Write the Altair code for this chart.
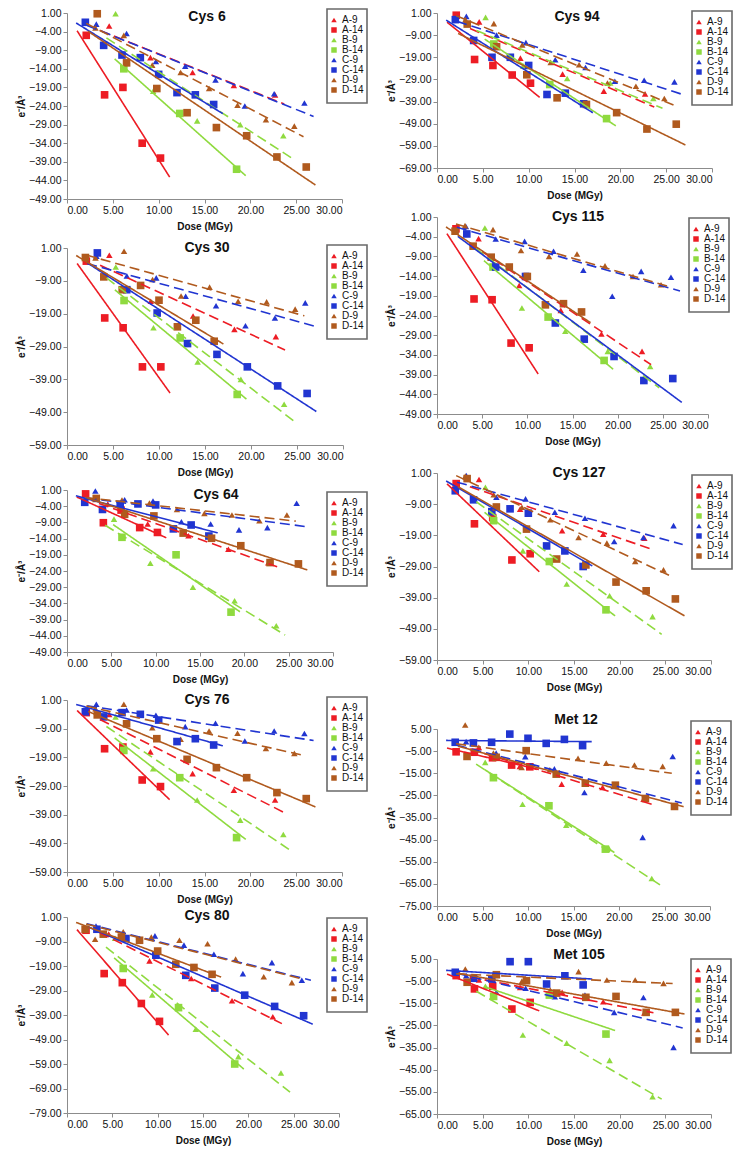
import altair as alt
import numpy as np
import pandas as pd

# ---------------- data ----------------
SERIES = ["A-9", "A-14", "B-9", "B-14", "C-9", "C-14", "D-9", "D-14"]
COLORS = ["#ed1c24", "#ed1c24", "#8fda3f", "#8fda3f", "#2135d1", "#2135d1", "#b05a1e", "#b05a1e"]
SHAPES = ["triangle-up", "square"] * 4
X_TICKS = [0, 5, 10, 15, 20, 25, 30]

DOSE_A9 = [4.6, 9.1, 13.7, 18.2, 22.7]
DOSE_A14 = [2.1, 4.1, 6.1, 8.2, 10.2]
DOSE_B9 = [5.3, 9.4, 14.2, 18.9, 23.6]
DOSE_B14 = [6.2, 12.3, 18.5]
DOSE_C9 = [3.2, 6.5, 9.7, 12.9, 16.2, 19.4, 22.6, 25.9]
DOSE_D9 = [3.1, 6.2, 9.3, 12.4, 15.5, 18.6, 21.7, 24.8]
DOSE_SHORT = [2.0, 4.0, 6.0, 8.0, 10.0, 12.0, 14.0, 16.0]
DOSE_LONG = [3.3, 6.5, 9.8, 13.1, 16.3, 19.6, 22.9, 26.1]

CYS6 = {
    "A-9": [-2.5, -11, -15, -18.5, -21],
    "A-14": [-5, -21, -19, -34, -38],
    "B-9": [0.8, -20, -28, -29, -32],
    "B-14": [-14, -26, -41],
    "C-9": [-2, -4.5, -12, -13.3, -17, -24, -20.7, -23.2],
    "C-14": [-1.5, -7.7, -10.3, -11, -15.5, -20.4, -21, -23.6],
    "D-9": [-3, -5, -13, -15, -19.3, -23.8, -27.7, -29.4],
    "D-14": [0.8, -12.4, -19.3, -25.8, -29.8, -32, -37.7, -40.4],
}
CYS30 = {
    "A-9": [-1.2, -15.2, -19.7, -23.8, -26],
    "A-14": [-3, -20.3, -23.3, -35.2, -35.2],
    "B-9": [-4.8, -23.3, -33.7, -39, -46.6],
    "B-14": [-15, -26.4, -43.6],
    "C-9": [-1.5, -7.5, -8.1, -13.7, -16.6, -22.7, -20.3, -15.7],
    "C-14": [-0.5, -11.7, -18.8, -28.1, -31.4, -35.2, -41, -43.3],
    "D-9": [-2, 0, -8.6, -13.6, -10.9, -15.2, -15.4, -17.6],
    "D-14": [-1.9, -7.8, -11.7, -10.4, -14.9, -23, -21, -27.4],
}
CYS64 = {
    "A-9": [-3.3, -9.5, -13.1, -17.3, -21.4],
    "A-14": [-0.2, -9.1, -5.2, -10.6, -12.1],
    "B-9": [-8, -21.6, -29, -33.2, -40.9],
    "B-14": [-13.6, -19, -36.7],
    "C-9": [0.7, -2, -2.4, -8.8, -9.5, -11.3, -10.6, -3.1],
    "C-14": [-2.8, -5, -3.4, -3.3, -3.6, -11, -9.8, -13.2],
    "D-9": [-1.6, -2.1, -3, -5, -6.2, -6.7, -8.5, -6.7],
    "D-14": [-1.6, -6.5, -7, -12.3, -13.9, -16.2, -21.4, -21.8],
}
CYS76 = {
    "A-9": [-4, -17.1, -24.7, -30.5, -33.9],
    "A-14": [-3.4, -16, -15.4, -26.9, -29.2],
    "B-9": [-4.9, -23, -33.9, -40.9, -45.9],
    "B-14": [-16.6, -26.1, -47],
    "C-9": [-0.5, -2.5, -4.3, -8.3, -7.1, -13.3, -9.8, -10.7],
    "C-14": [-3.1, -4.9, -3.4, -4, -6, -13.5, -12.5, -14.7],
    "D-9": [-2, -0.5, -8.7, -12.7, -9.8, -10.6, -15.9, -17.6],
    "D-14": [-4.2, -7.3, -12.5, -19.7, -22.6, -26.1, -31.3, -33.4],
}
CYS80 = {
    "A-9": [-6, -16.9, -24.1, -33.2, -39.7],
    "A-14": [-4.4, -22.1, -25.8, -34.3, -41.6],
    "B-9": [-7.7, -30.8, -44.8, -56, -62.7],
    "B-14": [-20, -36, -59],
    "C-9": [-2.7, -7.7, -6.7, -10.5, -14.2, -22.1, -17.6, -24.8],
    "C-14": [-4, -7.8, -14.6, -22.8, -28, -30.9, -35.5, -39.3],
    "D-9": [-8.1, -5, -7.2, -8.5, -9.9, -16.2, -23.4, -25.8],
    "D-14": [-4, -6, -7.2, -8.5, -12.9, -18.3, -19.6, -22.4],
}
CYS94 = {
    "A-9": [-3, -19.4, -26.6, -34.3, -35.5],
    "A-14": [0, -20, -22.7, -27, -30.7],
    "B-9": [-1, -23, -28.6, -30.6, -37.6],
    "B-14": [-13, -31.3, -46.7],
    "C-9": [-0.5, -9, -12.4, -20.1, -23.6, -29.8, -29.4, -30.1],
    "C-14": [-2, -11.4, -19, -19, -22.7, -35.8, -35.2, -40],
    "D-9": [-2, -3.8, -13.4, -21.3, -22.4, -30.6, -32.1, -37.6],
    "D-14": [-4, -14.2, -26.9, -37.3, -40.3, -44, -51.4, -49.2],
}
CYS115 = {
    "A-9": [-4.5, -16.4, -22.7, -28.7, -33.1],
    "A-14": [-2, -19.8, -20, -31, -32.2],
    "B-9": [-1.8, -22.1, -28, -33.1, -36.9],
    "B-14": [-11.7, -24.4, -35.4],
    "C-9": [-1.4, -4.6, -5.2, -7.7, -12.5, -19.1, -12.8, -14.3],
    "C-14": [-3.3, -11.7, -14.1, -25.9, -30, -34.4, -40.5, -40],
    "D-9": [-1.2, -2.2, -7.5, -9, -8.4, -11.4, -14.1, -16.2],
    "D-14": [-2.6, -6.4, -9.2, -11.7, -14.1, -21.3, -21, -23.1],
}
CYS127 = {
    "A-9": [-1.1, -10.6, -17.5, -18.6, -19.9],
    "A-14": [-2.4, -15.3, -13.3, -26.9, -24.9],
    "B-9": [-3.6, -24, -34.6, -38.4, -45.1],
    "B-14": [-14.3, -27.4, -42.9],
    "C-9": [0.2, -6.8, -7.3, -11.6, -13.5, -21, -19.7, -15.9],
    "C-14": [-4.7, -7.6, -11.4, -10.5, -11.9, -22.4, -24, -29],
    "D-9": [-0.1, -6, -10, -14, -19.7, -21.5, -27.4, -30.1],
    "D-14": [-0.8, -9.9, -17, -26.6, -28.5, -34, -36.8, -39.4],
}
MET12 = {
    "A-9": [-3.3, -11.9, -19.9, -21.4, -26.7],
    "A-14": [-5.3, -5.5, -8, -11.3, -12.1],
    "B-9": [-10.1, -29, -38.5, -49, -62.6],
    "B-14": [-17, -29.7, -49.3],
    "C-9": [-0.7, -5.9, -7.5, -13, -23.7, -21, -44, -7.4],
    "C-14": [-1, -1.3, -1, 2.7, 0.8, -1.5, 0.3, -2.5],
    "D-9": [6.8, -5.9, -12.4, -13.4, -8.3, -10.4, -11.3, -11.9],
    "D-14": [-7.4, -7.8, -4.8, -15.4, -19.5, -20.4, -26.4, -30],
}
MET105 = {
    "A-9": [-4.5, -7.8, -10, -14.3, -19.4],
    "A-14": [-2.5, -8.5, -7.3, -17.6, -14.6],
    "B-9": [-7.3, -29.3, -33, -40.8, -57.2],
    "B-14": [-11.9, -11.3, -28.9],
    "C-9": [-2.5, -10, -8.2, -12, -11.3, -19.1, -12.4, -34.9],
    "C-14": [-1, -3.7, -4, 3.8, 3.8, -6.3, -2.6, -6.7],
    "D-9": [0.5, -2, -5, -9, -0.7, -4.5, -4.5, -6],
    "D-14": [-5.5, -2.1, -4.8, -10.4, -12.3, -11.9, -19.1, -19.1],
}

PANEL_DATA = {
    "Cys 6": CYS6, "Cys 30": CYS30, "Cys 64": CYS64, "Cys 76": CYS76, "Cys 80": CYS80,
    "Cys 94": CYS94, "Cys 115": CYS115, "Cys 127": CYS127, "Met 12": MET12, "Met 105": MET105,
}
# which of the -14 series was measured on the long dose ladder
LONG14 = {
    "Cys 6": "D-14", "Cys 30": "C-14", "Cys 64": "D-14", "Cys 76": "D-14", "Cys 80": "C-14",
    "Cys 94": "D-14", "Cys 115": "C-14", "Cys 127": "D-14", "Met 12": "D-14", "Met 105": "D-14",
}
# y-axis: (top, bottom, step)
Y_AXIS = {
    "Cys 6": (1, -49, 5), "Cys 30": (1, -59, 10), "Cys 64": (1, -49, 5), "Cys 76": (1, -59, 10),
    "Cys 80": (1, -79, 10), "Cys 94": (1, -69, 10), "Cys 115": (1, -49, 5), "Cys 127": (1, -59, 10),
    "Met 12": (5, -75, 10), "Met 105": (5, -65, 10),
}
LEFT = ["Cys 6", "Cys 30", "Cys 64", "Cys 76", "Cys 80"]
RIGHT = ["Cys 94", "Cys 115", "Cys 127", "Met 12", "Met 105"]

# ---------------- layout / style ----------------
LAYOUT = {
    "Cys 6":   dict(w=275, h=186, top=13,  tx=140, ty=4,  lx=260, ly=-4),
    "Cys 30":  dict(w=276, h=197, top=248, tx=140, ty=0,  lx=260, ly=-3),
    "Cys 64":  dict(w=266, h=162, top=487, tx=149, ty=5,  lx=260, ly=2),
    "Cys 76":  dict(w=275, h=172, top=697, tx=140, ty=0,  lx=260, ly=-3),
    "Cys 80":  dict(w=272, h=196, top=914, tx=140, ty=-1, lx=260, ly=1),
    "Cys 94":  dict(w=275, h=155, top=13,  tx=140, ty=4,  lx=255, ly=-2),
    "Cys 115": dict(w=271, h=197, top=217, tx=141, ty=0,  lx=252, ly=1),
    "Cys 127": dict(w=274, h=187, top=473, tx=142, ty=0,  lx=255, ly=2),
    "Met 12":  dict(w=273, h=177, top=729, tx=139, ty=-9, lx=254, ly=-8),
    "Met 105": dict(w=274, h=155, top=959, tx=142, ty=-4, lx=254, ly=0),
}
FONT = "Liberation Sans"
AXC = "#8c8c8c"
TXT = "#111111"
BOXC = "#6a6a6a"
LEG_W, LEG_H = 40, 94
EXTEND = 1.0        # trendline forecast each side
AXIS_BOTTOM = 31    # x-axis extent below the plot
TITLE_HALF = 9
LABEL_HALF = 4


def doses(panel, s):
    if s in ("C-14", "D-14"):
        return DOSE_LONG if LONG14[panel] == s else DOSE_SHORT
    return {"A-9": DOSE_A9, "A-14": DOSE_A14, "B-9": DOSE_B9, "B-14": DOSE_B14,
            "C-9": DOSE_C9, "D-9": DOSE_D9}[s]


def make_panel(name):
    vals = PANEL_DATA[name]
    lay = LAYOUT[name]
    top, bot, step = Y_AXIS[name]
    pts, lines = [], []
    for s in SERIES:
        xs = doses(name, s)
        ys = vals[s]
        kind = "9" if s.endswith("-9") else "14"
        for x, y in zip(xs, ys):
            pts.append({"series": s, "kind": kind, "x": x, "y": y})
        k, b = np.polyfit(np.array(xs, float), np.array(ys, float), 1)
        for x in (min(xs) - EXTEND, max(xs) + EXTEND):
            lines.append({"series": s, "kind": kind, "x": x, "y": k * x + b})
    pdf = pd.DataFrame(pts)
    ldf = pd.DataFrame(lines)

    xenc = alt.X("x:Q", scale=alt.Scale(domain=[0, 30], nice=False, zero=False),
                 axis=alt.Axis(title="Dose (MGy)", values=X_TICKS, format=".2f", grid=False,
                               domainColor=AXC, tickColor=AXC, tickSize=4, labelPadding=2,
                               labelFont=FONT, labelFontSize=10.5, labelColor=TXT,
                               titleFont=FONT, titleFontSize=10, titleFontWeight="bold",
                               titleColor=TXT, titlePadding=6, labelOverlap=False))
    yvals = list(range(top, bot - 1, -step))
    yenc = alt.Y("y:Q", scale=alt.Scale(domain=[bot, top], nice=False, zero=False),
                 axis=alt.Axis(title="e⁻/Å³", values=yvals, format=".2f", grid=False,
                               domainColor=AXC, tickColor=AXC, tickSize=4, labelPadding=2,
                               labelFont=FONT, labelFontSize=10.5, labelColor=TXT,
                               titleFont=FONT, titleFontSize=10, titleFontWeight="bold",
                               titleColor=TXT, titlePadding=2, labelOverlap=False))
    leg = alt.Legend(title=None, orient="none", legendX=lay["lx"] + 2, legendY=lay["ly"] + 6,
                     labelFont=FONT, labelFontSize=10, labelColor=TXT, symbolSize=30,
                     symbolStrokeWidth=0, padding=0, rowPadding=0, labelOffset=3,
                     direction="vertical")
    color = alt.Color("series:N", scale=alt.Scale(domain=SERIES, range=COLORS), legend=leg)
    shape = alt.Shape("series:N", scale=alt.Scale(domain=SERIES, range=SHAPES), legend=leg)

    tri = alt.Chart(pdf).transform_filter(alt.datum.kind == "9").mark_point(
        filled=True, size=42, opacity=1, strokeWidth=0).encode(x=xenc, y=yenc, color=color, shape=shape)
    sq = alt.Chart(pdf).transform_filter(alt.datum.kind == "14").mark_point(
        filled=True, size=58, opacity=1, strokeWidth=0).encode(x=xenc, y=yenc, color=color, shape=shape)
    ln = alt.Chart(ldf).mark_line(strokeWidth=1.6, clip=True).encode(
        x=xenc, y=yenc,
        color=alt.Color("series:N", scale=alt.Scale(domain=SERIES, range=COLORS), legend=None),
        strokeDash=alt.StrokeDash("kind:N", scale=alt.Scale(domain=["9", "14"], range=[[10, 5], [1, 0]]),
                                  legend=None),
        detail="series:N")

    # legend frame (pixel geometry taken from the layout, not from the data)
    x0, x1 = lay["lx"], lay["lx"] + LEG_W
    y0, y1 = lay["ly"], lay["ly"] + LEG_H
    tdf = pd.DataFrame({"t": [name]})
    box = alt.Chart(tdf).mark_rect(fill="#ffffff", stroke=BOXC, strokeWidth=1.6).encode(
        x=alt.value(x0), x2=alt.value(x1), y=alt.value(y0), y2=alt.value(y1))
    ttl = alt.Chart(tdf).mark_text(
        font=FONT, fontSize=14, fontWeight="bold", color=TXT, align="center", baseline="middle"
    ).encode(text="t:N", x=alt.value(lay["tx"]), y=alt.value(lay["ty"]))
    return alt.layer(tri, sq, ln, box, ttl).properties(width=lay["w"], height=lay["h"])


def indep(c):
    return c.resolve_scale(color="independent", shape="independent", strokeDash="independent",
                           x="independent", y="independent").resolve_legend(
        color="independent", shape="independent", strokeDash="independent")


def overflow(name):
    lay = LAYOUT[name]
    return max(LABEL_HALF, TITLE_HALF - lay["ty"], -lay["ly"])


def column(names):
    col = make_panel(names[0])
    for prev, cur in zip(names[:-1], names[1:]):
        pl, cl = LAYOUT[prev], LAYOUT[cur]
        sp = cl["top"] - (pl["top"] + pl["h"]) - AXIS_BOTTOM - overflow(cur)
        col = indep(alt.vconcat(col, make_panel(cur), spacing=sp))
    return col


chart = indep(alt.hconcat(column(LEFT), column(RIGHT), spacing=18)).properties(
    padding={"left": 8, "top": 0, "right": 0, "bottom": 0}, background="white"
).configure_view(stroke=None)

chart.save("out.html", embed_options={"renderer": "svg", "actions": False})
